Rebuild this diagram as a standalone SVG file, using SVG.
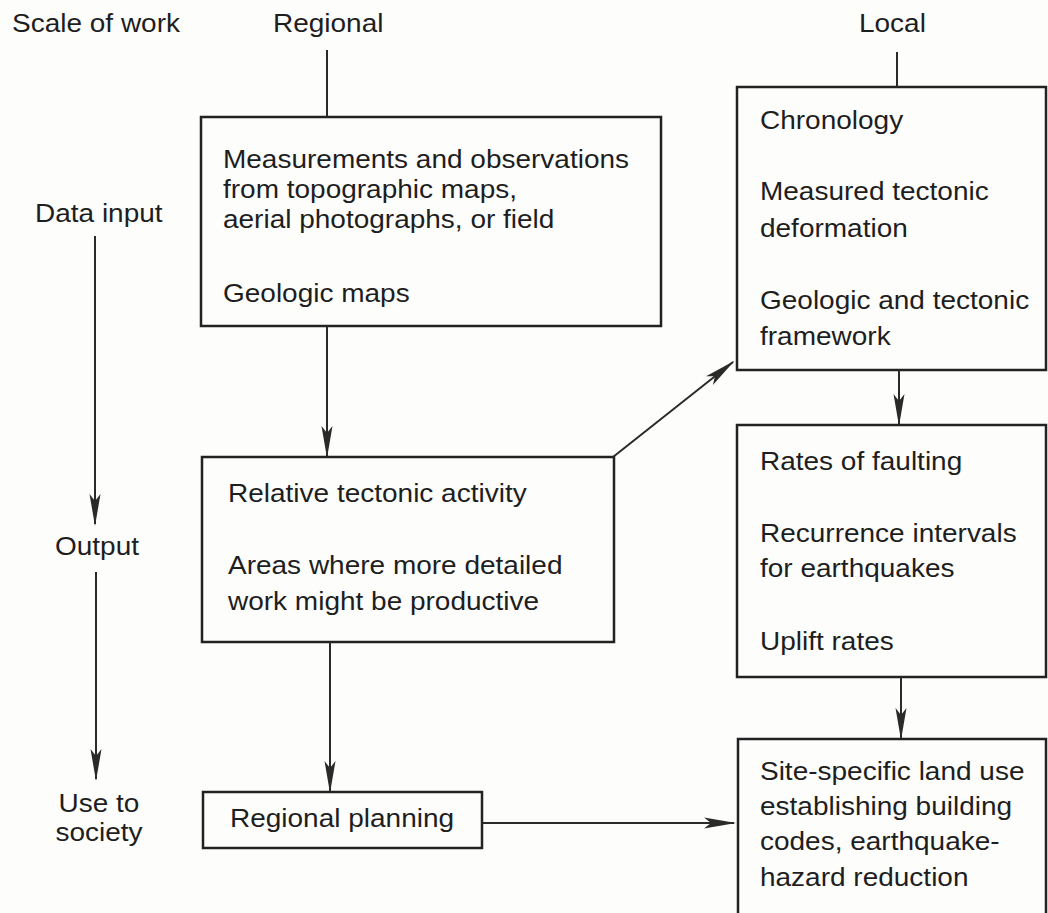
<svg xmlns="http://www.w3.org/2000/svg" width="1048" height="913" viewBox="0 0 1048 913">
  <style>
    .t { font-family: "Liberation Sans", Arial, Helvetica, sans-serif; font-size: 25px; fill: #1e1e1e; }
    .box { fill: none; stroke: #222; stroke-width: 2.5; }
    .ln { stroke: #2a2a2a; stroke-width: 2; fill: none; }
    .arr { stroke: #2a2a2a; stroke-width: 2; fill: none; marker-end: url(#ah); }
  </style>
  <defs>
    <marker id="ah" viewBox="0 0 32 12" refX="30" refY="6" markerWidth="32" markerHeight="12" markerUnits="userSpaceOnUse" orient="auto">
      <path d="M0,0.5 L32,6 L0,11.5 L7,6 Z" fill="#2a2a2a"/>
    </marker>
  </defs>
  <rect x="0" y="0" width="1048" height="913" fill="#fdfdfc"/>

  <g id="header-scale">
    <g transform="matrix(1.12 0 0 1 -1.44 0)"><text class="t" x="12" y="32">Scale of work</text></g>
  </g>
  <g id="header-regional">
    <g transform="matrix(1.12 0 0 1 -32.76 0)"><text class="t" x="273" y="32">Regional</text></g>
  </g>
  <g id="header-local">
    <g transform="matrix(1.12 0 0 1 -103.08 0)"><text class="t" x="859" y="32">Local</text></g>
  </g>

  <g id="label-data-input">
    <g transform="matrix(1.12 0 0 1 -4.2 0)"><text class="t" x="35" y="222">Data input</text></g>
  </g>
  <g id="label-output">
    <g transform="matrix(1.12 0 0 1 -6.6 0)"><text class="t" x="55" y="555">Output</text></g>
  </g>
  <g id="label-use">
    <g transform="matrix(1.12 0 0 1 -11.88 0)">
      <text class="t" x="99" y="812" text-anchor="middle">Use to</text>
      <text class="t" x="99" y="841" text-anchor="middle">society</text>
    </g>
  </g>

  <g id="node-measurements">
    <rect class="box" x="201" y="117" width="460" height="209"/>
    <g transform="matrix(1.12 0 0 1 -26.76 0)">
      <text class="t" x="223" y="168">Measurements and observations</text>
      <text class="t" x="223" y="198">from topographic maps,</text>
      <text class="t" x="223" y="228">aerial photographs, or field</text>
      <text class="t" x="223" y="302">Geologic maps</text>
    </g>
  </g>

  <g id="node-relative">
    <rect class="box" x="202" y="457" width="412" height="185"/>
    <g transform="matrix(1.12 0 0 1 -27.36 0)">
      <text class="t" x="228" y="502">Relative tectonic activity</text>
      <text class="t" x="228" y="574">Areas where more detailed</text>
      <text class="t" x="228" y="610">work might be productive</text>
    </g>
  </g>

  <g id="node-regional-planning">
    <rect class="box" x="203" y="792" width="279" height="56"/>
    <g transform="matrix(1.12 0 0 1 -27.6 0)">
      <text class="t" x="230" y="827">Regional planning</text>
    </g>
  </g>

  <g id="node-chronology">
    <rect class="box" x="737" y="87" width="309" height="283"/>
    <g transform="matrix(1.12 0 0 1 -91.2 0)">
      <text class="t" x="760" y="129">Chronology</text>
      <text class="t" x="760" y="200">Measured tectonic</text>
      <text class="t" x="760" y="237">deformation</text>
      <text class="t" x="760" y="309">Geologic and tectonic</text>
      <text class="t" x="760" y="345">framework</text>
    </g>
  </g>

  <g id="node-rates">
    <rect class="box" x="737" y="425" width="309" height="252"/>
    <g transform="matrix(1.12 0 0 1 -91.2 0)">
      <text class="t" x="760" y="470">Rates of faulting</text>
      <text class="t" x="760" y="542">Recurrence intervals</text>
      <text class="t" x="760" y="577">for earthquakes</text>
      <text class="t" x="760" y="650">Uplift rates</text>
    </g>
  </g>

  <g id="node-site-specific">
    <rect class="box" x="738" y="739" width="308" height="190"/>
    <g transform="matrix(1.12 0 0 1 -91.2 0)">
      <text class="t" x="760" y="780">Site-specific land use</text>
      <text class="t" x="760" y="815">establishing building</text>
      <text class="t" x="760" y="850">codes, earthquake-</text>
      <text class="t" x="760" y="886">hazard reduction</text>
    </g>
  </g>

  <g id="connectors">
    <line class="ln" x1="327" y1="50" x2="327" y2="117"/>
    <line class="ln" x1="897" y1="52" x2="897" y2="87"/>
    <line class="arr" x1="95" y1="236" x2="95" y2="524"/>
    <line class="arr" x1="96" y1="572" x2="96" y2="779"/>
    <line class="arr" x1="327" y1="326" x2="327" y2="456"/>
    <line class="arr" x1="330" y1="642" x2="330" y2="791"/>
    <line class="arr" x1="613" y1="457" x2="733" y2="362"/>
    <line class="arr" x1="482" y1="823" x2="734" y2="823"/>
    <line class="arr" x1="899" y1="370" x2="899" y2="424"/>
    <line class="arr" x1="901" y1="677" x2="901" y2="738"/>
  </g>
</svg>
